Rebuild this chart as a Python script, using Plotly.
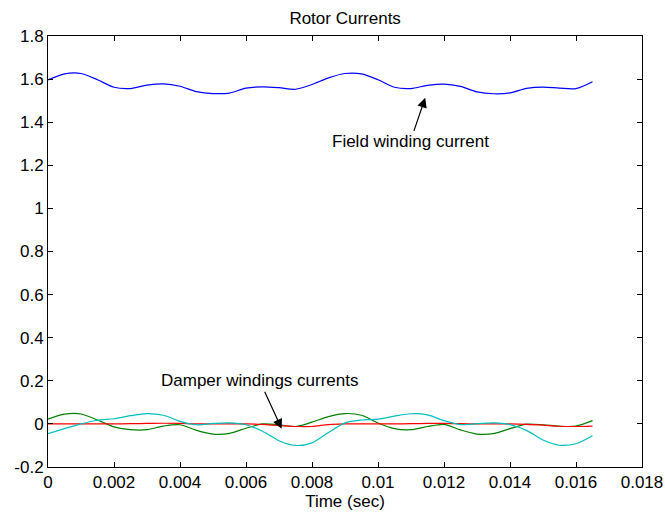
import plotly.graph_objects as go

time_s = [0.0, 0.0005, 0.001, 0.0015, 0.002, 0.0025, 0.003, 0.0035, 0.004, 0.0045,
          0.005, 0.0055, 0.006, 0.0065, 0.007, 0.0075, 0.008, 0.0085, 0.009, 0.0095,
          0.010, 0.0105, 0.011, 0.0115, 0.012, 0.0125, 0.013, 0.0135, 0.014, 0.0145,
          0.015, 0.0155, 0.016, 0.0165]

field_current = [1.596, 1.624, 1.626, 1.597, 1.562, 1.556, 1.572, 1.578, 1.567, 1.542,
                 1.533, 1.535, 1.558, 1.564, 1.560, 1.553, 1.575, 1.606, 1.626, 1.624,
                 1.597, 1.562, 1.556, 1.571, 1.577, 1.566, 1.541, 1.532, 1.536, 1.557,
                 1.563, 1.558, 1.556, 1.588]

damper_green = [0.022, 0.045, 0.046, 0.018, -0.014, -0.027, -0.027, -0.010, -0.004, -0.030,
                -0.047, -0.044, -0.020, 0.000, -0.004, -0.012, 0.008, 0.034, 0.048, 0.040,
                0.004, -0.022, -0.027, -0.012, -0.002, -0.028, -0.047, -0.045, -0.022, -0.001,
                -0.004, -0.011, -0.010, 0.015]

damper_red = [0.000, 0.000, 0.000, 0.000, 0.000, 0.001, 0.002, 0.003, 0.002, 0.000,
              0.000, 0.000, 0.000, -0.002, -0.008, -0.012, -0.012, -0.003, 0.000, 0.000,
              0.000, 0.000, 0.001, 0.002, 0.002, 0.001, 0.000, 0.000, 0.000, -0.002,
              -0.006, -0.011, -0.012, -0.010]

damper_cyan = [-0.045, -0.022, 0.000, 0.017, 0.024, 0.038, 0.048, 0.040, 0.012, -0.004,
               0.002, 0.005, -0.004, -0.034, -0.078, -0.100, -0.088, -0.040, 0.005, 0.018,
               0.022, 0.036, 0.047, 0.042, 0.015, -0.003, 0.001, 0.005, -0.003, -0.030,
               -0.075, -0.099, -0.092, -0.055]

x_ticks = [0, 0.002, 0.004, 0.006, 0.008, 0.01, 0.012, 0.014, 0.016, 0.018]
x_tick_labels = ["0", "0.002", "0.004", "0.006", "0.008", "0.01", "0.012", "0.014", "0.016", "0.018"]
y_ticks = [-0.2, 0, 0.2, 0.4, 0.6, 0.8, 1, 1.2, 1.4, 1.6, 1.8]
y_tick_labels = ["-0.2", "0", "0.2", "0.4", "0.6", "0.8", "1", "1.2", "1.4", "1.6", "1.8"]

fig = go.Figure()
fig.add_trace(go.Scatter(x=time_s, y=field_current, mode="lines",
                         line=dict(color="rgb(0,0,255)", width=1.2, shape="spline", smoothing=0.8)))
fig.add_trace(go.Scatter(x=time_s, y=damper_green, mode="lines",
                         line=dict(color="rgb(0,128,0)", width=1.2, shape="spline", smoothing=0.8)))
fig.add_trace(go.Scatter(x=time_s, y=damper_red, mode="lines",
                         line=dict(color="rgb(255,0,0)", width=1.2, shape="spline", smoothing=0.8)))
fig.add_trace(go.Scatter(x=time_s, y=damper_cyan, mode="lines",
                         line=dict(color="rgb(0,191,191)", width=1.2, shape="spline", smoothing=0.8)))

font_family = "Liberation Sans, Arial, Helvetica, sans-serif"
fsize = 17

fig.add_annotation(x=0.01143, y=1.513, xref="x", yref="y",
                   text="Field winding current", showarrow=True,
                   arrowhead=2, arrowsize=1.6, arrowwidth=1.2, arrowcolor="black",
                   ax=-15, ay=44, font=dict(family=font_family, size=fsize, color="black"))
fig.add_annotation(x=0.00708, y=-0.022, xref="x", yref="y",
                   text="Damper windings currents", showarrow=True,
                   arrowhead=2, arrowsize=1.6, arrowwidth=1.2, arrowcolor="black",
                   ax=-22, ay=-48, font=dict(family=font_family, size=fsize, color="black"))

axis_common = dict(showline=True, linecolor="black", linewidth=1, mirror="ticks",
                   ticks="inside", ticklen=5, tickcolor="black", showgrid=False,
                   zeroline=False, automargin=False,
                   tickfont=dict(family=font_family, size=fsize, color="black"))

fig.update_layout(
    width=665, height=515,
    margin=dict(l=48, r=23, t=36, b=48),
    paper_bgcolor="white", plot_bgcolor="white",
    showlegend=False,
    title=dict(text="Rotor Currents", x=0.519, xanchor="center", y=0.965, yanchor="middle",
               font=dict(family=font_family, size=fsize, color="black")),
    xaxis=dict(range=[0, 0.018], tickvals=x_ticks, ticktext=x_tick_labels,
               title=dict(text="Time (sec)", standoff=2,
                          font=dict(family=font_family, size=fsize, color="black")),
               **axis_common),
    yaxis=dict(range=[-0.2, 1.8], tickvals=y_ticks, ticktext=y_tick_labels, **axis_common),
)

fig.write_html("out.html")
